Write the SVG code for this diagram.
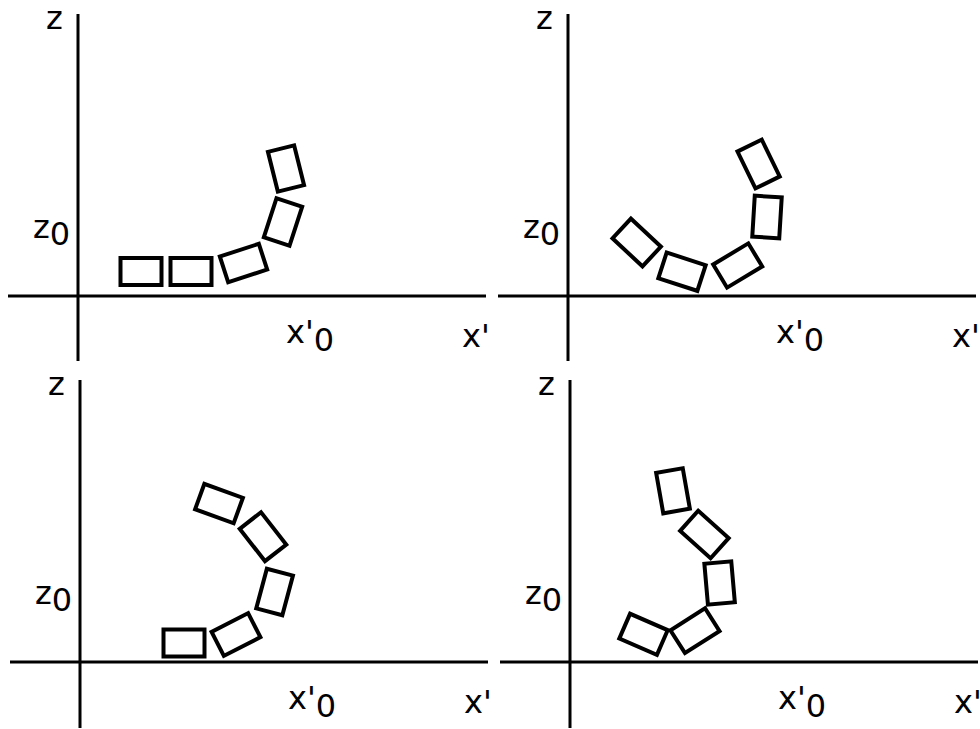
<svg xmlns="http://www.w3.org/2000/svg" width="980" height="729" viewBox="0 0 980 729">
<style>
.ax{stroke:#000;stroke-width:3;fill:none}
.b{fill:#fff;stroke:#000;stroke-width:4}
.t{font-family:"DejaVu Sans",sans-serif;font-size:32px;fill:#000}
</style>
<defs>
<rect id="h" x="-20.5" y="-13.5" width="41" height="27" class="b"/>
<rect id="v" x="-13.5" y="-20.5" width="27" height="41" class="b"/>
</defs>
<rect width="980" height="729" fill="#fff"/>
<g id="connectors">
<line class="ax" x1="78" y1="14" x2="78" y2="361"/>
<line class="ax" x1="8" y1="296" x2="486" y2="296"/>
<line class="ax" x1="568" y1="14" x2="568" y2="361"/>
<line class="ax" x1="498" y1="296" x2="976" y2="296"/>
<line class="ax" x1="80" y1="380" x2="80" y2="728"/>
<line class="ax" x1="10" y1="662" x2="488" y2="662"/>
<line class="ax" x1="570" y1="380" x2="570" y2="728"/>
<line class="ax" x1="500" y1="662" x2="978" y2="662"/>
</g>
<g id="labels">
<text class="t" x="46" y="29">z</text>
<text class="t" x="33" y="238">z<tspan dy="7">0</tspan></text>
<text class="t" x="286" y="343">x'<tspan dy="8">0</tspan></text>
<text class="t" x="462" y="347">x'</text>
<text class="t" x="536" y="29">z</text>
<text class="t" x="523" y="238">z<tspan dy="7">0</tspan></text>
<text class="t" x="776" y="343">x'<tspan dy="8">0</tspan></text>
<text class="t" x="952" y="347">x'</text>
<text class="t" x="48" y="395">z</text>
<text class="t" x="35" y="604">z<tspan dy="7">0</tspan></text>
<text class="t" x="288" y="709">x'<tspan dy="8">0</tspan></text>
<text class="t" x="464" y="713">x'</text>
<text class="t" x="538" y="395">z</text>
<text class="t" x="525" y="604">z<tspan dy="7">0</tspan></text>
<text class="t" x="778" y="709">x'<tspan dy="8">0</tspan></text>
<text class="t" x="954" y="713">x'</text>
</g>
<g id="panel1">
<use href="#h" transform="translate(141,271.5)"/>
<use href="#h" transform="translate(191,271.5)"/>
<use href="#h" transform="translate(243.5,263) rotate(-18)"/>
<use href="#v" transform="translate(283,222) rotate(18)"/>
<use href="#v" transform="translate(286,168.5) rotate(-14)"/>
</g>
<g id="panel2">
<use href="#h" transform="translate(636.7,242.5) rotate(43)"/>
<use href="#h" transform="translate(682,271.7) rotate(18)"/>
<use href="#h" transform="translate(737.7,265.5) rotate(-31)"/>
<use href="#v" transform="translate(767,217) rotate(3.5)"/>
<use href="#v" transform="translate(758.6,164) rotate(-26)"/>
</g>
<g id="panel3">
<use href="#h" transform="translate(184,643)"/>
<use href="#h" transform="translate(236,634.5) rotate(-27)"/>
<use href="#v" transform="translate(274.6,592) rotate(15)"/>
<use href="#h" transform="translate(263,536.7) rotate(52)"/>
<use href="#h" transform="translate(219,503.6) rotate(20)"/>
</g>
<g id="panel4">
<use href="#v" transform="translate(673,490.8) rotate(-10)"/>
<use href="#h" transform="translate(704.4,534.5) rotate(42)"/>
<use href="#v" transform="translate(719.6,583) rotate(-5)"/>
<use href="#h" transform="translate(695,630.7) rotate(-32.5)"/>
<use href="#h" transform="translate(643.5,634.3) rotate(23.5)"/>
</g>
</svg>
